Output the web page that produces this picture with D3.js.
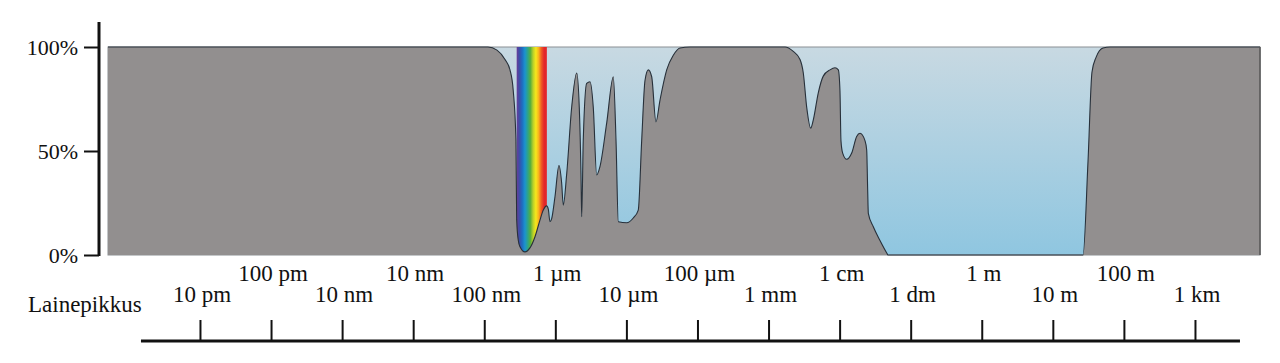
<!DOCTYPE html>
<html lang="fi">
<head>
<meta charset="UTF-8">
<title>Ilmakehän läpäisevyys</title>
<style>
body { margin: 0; background: #fff; }
svg text { font-family: 'Liberation Serif', 'DejaVu Serif', serif !important; fill: #111; }
.axis .domain { display: none; }
.axis .tick line { stroke: #111; stroke-width: 2; }
.axis .tick text { font-size: 22px; fill: #111; }
</style>
</head>
<body>
<script src="https://cdn.jsdelivr.net/npm/d3@7/dist/d3.min.js"></script>
<script>
// log10 of wavelength in metres
var wavelengthExp = [
  -12.294, -6.948, -6.821, -6.708, -6.638, -6.592, -6.554, -6.544, -6.521, -6.497,
  -6.427, -6.357, -6.286, -6.216, -6.169, -6.122, -6.099, -6.075, -6.051, -6.005,
  -5.949, -5.911, -5.888, -5.840, -5.770, -5.699, -5.663, -5.639, -5.629, -5.607,
  -5.559, -5.512, -5.466, -5.418, -5.372, -5.277, -5.184, -5.146, -5.114, -4.996,
  -4.903, -4.833, -4.785, -4.738, -4.692, -4.644, -4.584, -4.527, -4.433, -4.340,
  -4.246, -4.105,
  -2.768, -2.656, -2.557, -2.511, -2.463, -2.407, -2.370, -2.300, -2.230, -2.135,
  -2.065, -2.018, -1.995, -1.981, -1.957, -1.900, -1.830, -1.760, -1.713, -1.643,
  -1.619, -1.605, -1.596, -1.526, -1.432, -1.337, -1.319,
  1.425, 1.495, 1.551, 1.608, 1.706, 1.805, 3.915
]
// atmospheric opacity, %
var opacity = [
  100, 100, 98.5, 94, 89, 79, 55, 17, 7, 4,
  1.5, 3.4, 8.8, 16.8, 21.6, 23.6, 22, 16, 17.5, 28,
  43, 34.6, 24, 39, 71, 87.5, 71, 39, 18.4, 55,
  82.5, 83.3, 71, 38.5, 42.5, 63.5, 85.7, 55, 16, 15.5,
  17.8, 21.6, 55, 84, 89, 85.7, 64, 74.5, 89, 96,
  99.5, 100,
  100, 98, 94, 87.5, 71, 61, 65, 78, 86, 89,
  90, 89, 79, 55, 49, 46, 49, 57, 58.5, 55,
  50.5, 31, 20, 13.6, 7, 1, 0,
  0, 45, 88, 95, 99.5, 100, 100
]

var tickValues = [1e-11, 1e-10, 1e-9, 1e-8, 1e-7, 1e-6, 1e-5, 1e-4, 1e-3, 1e-2, 1e-1, 1, 10, 100, 1000]
var tickLabels = ["10 pm", "100 pm", "10 nm", "10 nm", "100 nm", "1 µm", "10 µm", "100 µm",
                  "1 mm", "1 cm", "1 dm", "1 m", "10 m", "100 m", "1 km"]
var yTicks = [0, 50, 100]
var visibleBand = [2.86e-7, 7.6e-7]
var rainbow = ["#6a3b98", "#3b4fa8", "#1f6cc0", "#1b93cf", "#2ea38a", "#55ae3e",
               "#b9d02a", "#f6e81b", "#f7b21c", "#ef5b23", "#e3262a", "#e3262a"]

var serif = "'Liberation Serif', 'DejaVu Serif', serif"

var data = wavelengthExp.map(function (e, i) {
  return { w: Math.pow(10, e), v: opacity[i] }
})

var width = 1280, height = 363

var svg = d3.select("body").append("svg")
    .attr("width", width)
    .attr("height", height)
    .attr("font-family", serif)

var x = d3.scaleLog()
    .domain(d3.extent(data, function (d) { return d.w }))
    .range([108, 1260])

var y = d3.scaleLinear()
    .domain([0, 100])
    .range([255, 47])

var defs = svg.append("defs")

var sky = defs.append("linearGradient")
    .attr("id", "sky")
    .attr("x1", 0).attr("y1", 0).attr("x2", 0).attr("y2", 1)
sky.append("stop").attr("offset", "0%").attr("stop-color", "#c8d9e2")
sky.append("stop").attr("offset", "100%").attr("stop-color", "#8fc6e0")

var spec = defs.append("linearGradient")
    .attr("id", "spec")
    .attr("x1", 0).attr("y1", 0).attr("x2", 1).attr("y2", 0)
spec.selectAll("stop")
    .data(rainbow)
    .enter().append("stop")
    .attr("offset", function (d, i) { return (i / (rainbow.length - 1) * 100) + "%" })
    .attr("stop-color", function (d) { return d })

// sky background
svg.append("rect")
    .attr("x", x.range()[0])
    .attr("y", y(100))
    .attr("width", x.range()[1] - x.range()[0])
    .attr("height", y(0) - y(100))
    .attr("fill", "url(#sky)")
    .attr("stroke", "#8a8f94")
    .attr("stroke-width", 1)

// visible light band
svg.append("rect")
    .attr("x", x(visibleBand[0]))
    .attr("y", y(100))
    .attr("width", x(visibleBand[1]) - x(visibleBand[0]))
    .attr("height", y(0) - y(100))
    .attr("fill", "url(#spec)")

var area = d3.area()
    .x(function (d) { return x(d.w) })
    .y0(y(0))
    .y1(function (d) { return y(d.v) })
    .curve(d3.curveMonotoneX)

var line = d3.line()
    .x(function (d) { return x(d.w) })
    .y(function (d) { return y(d.v) })
    .curve(d3.curveMonotoneX)

svg.append("path")
    .datum(data)
    .attr("d", area)
    .attr("fill", "#928f8f")

svg.append("path")
    .datum(data)
    .attr("d", line)
    .attr("fill", "none")
    .attr("stroke", "#27303a")
    .attr("stroke-width", 1.1)

// right edge
svg.append("line")
    .attr("x1", x.range()[1]).attr("x2", x.range()[1])
    .attr("y1", y(100)).attr("y2", y(0))
    .attr("stroke", "#555")
    .attr("stroke-width", 1.5)

// y axis
svg.append("g")
    .attr("class", "axis axis--y")
    .attr("transform", "translate(99,0)")
    .call(d3.axisLeft(y)
      .tickValues(yTicks)
      .tickSize(15)
      .tickPadding(6)
      .tickFormat(function (d) { return d + "%" }))
    .attr("font-family", serif)

svg.append("line")
    .attr("x1", 99).attr("x2", 99)
    .attr("y1", y(100) - 25).attr("y2", y(0) + 1)
    .attr("stroke", "#111")
    .attr("stroke-width", 3)

// wavelength scale
var axisY = 341

svg.append("g")
    .attr("class", "axis axis--x")
    .attr("transform", "translate(0," + axisY + ")")
    .call(d3.axisTop(x)
      .tickValues(tickValues)
      .tickSize(21)
      .tickFormat(""))
  .selectAll(".tick line")
    .attr("stroke-width", 2.5)

svg.append("line")
    .attr("x1", x(tickValues[0]) - 59)
    .attr("x2", x(tickValues[tickValues.length - 1]) + 45)
    .attr("y1", axisY).attr("y2", axisY)
    .attr("stroke", "#111")
    .attr("stroke-width", 3)

svg.append("g").selectAll("text")
    .data(tickValues)
    .enter().append("text")
    .attr("x", function (d) { return x(d) + 2 })
    .attr("y", function (d, i) { return i % 2 ? 281 : 302 })
    .attr("text-anchor", "middle")
    .attr("font-size", 23)
    .attr("font-family", serif)
    .text(function (d, i) { return tickLabels[i] })

svg.append("text")
    .attr("x", 28)
    .attr("y", 312)
    .attr("font-size", 23)
    .attr("font-family", serif)
    .text("Lainepikkus")
</script>
</body>
</html>
